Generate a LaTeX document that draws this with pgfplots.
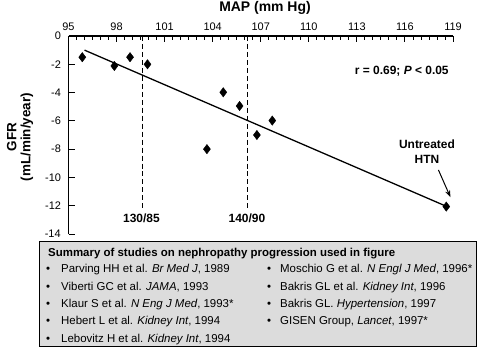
\documentclass[border=0pt]{standalone}
\usepackage{fontspec}
\setmainfont{Liberation Sans}
\usepackage{pgfplots}
\pgfplotsset{compat=1.18}
\usetikzlibrary{arrows.meta}
\definecolor{boxgray}{HTML}{DCDCDC}
\begin{document}
\begin{tikzpicture}[x=1bp,y=1bp]
\path[use as bounding box] (0,0) rectangle (480,347);
\draw[line width=0.8pt, fill=boxgray] (39.5,0.4) rectangle (476,106);
\begin{axis}[
  at={(68.5bp,113bp)}, anchor=south west,
  scale only axis, width=384.5bp, height=198bp,
  xmin=95, xmax=119, ymin=-14, ymax=0,
  axis x line*=top, axis y line*=left,
  axis line style={-, line width=1.1pt},
  xtick={95,98,101,104,107,110,113,116,119}, xticklabels={95,98,101,104,107,110,113,116,119},
  minor x tick num=5,
  ytick={0,-2,-4,-6,-8,-10,-12}, yticklabels={0,-2,-4,-6,-8,-10,-12},
  tick align=inside,
  major tick length=6bp, minor tick length=4bp,
  tick style={black, line width=0.9pt},
  ticklabel style={font=\fontsize{11}{13}\selectfont},
  yticklabel style={xshift=-4bp},
  xticklabel style={yshift=2bp},
  clip=false,
]
\addplot[black, line width=1.3pt] coordinates {(96,-1) (118.6,-12.05)};
\addplot[black, line width=1.1pt, dash pattern=on 5pt off 3pt] coordinates {(99.6,0) (99.6,-12.3)};
\addplot[black, line width=1.1pt, dash pattern=on 5pt off 3pt] coordinates {(106.15,0) (106.15,-12.3)};
\addplot[only marks, mark=diamond*, mark size=4.7pt, black] coordinates {
(95.86,-1.5) (97.86,-2.12) (98.84,-1.5) (99.93,-2.0) (104.66,-3.98)
(105.68,-4.95) (103.64,-8.0) (106.76,-7.0) (107.72,-5.98) (118.58,-12.06)};
\draw[black, line width=0.9pt] (axis cs:95,-14) -- (axis cs:95.375,-14);
\node[anchor=east, inner sep=0, xshift=-7.7bp, font=\fontsize{11}{13}\selectfont] at (axis cs:95,-14) {-14};
\node[anchor=east, font=\fontsize{12}{14}\selectfont\bfseries, inner sep=0] at (axis cs:118.74,-2.52) {r = 0.69; \textit{P} < 0.05};
\node[align=center, font=\fontsize{12}{14.5}\selectfont\bfseries, inner sep=0] at (axis cs:117.375,-8.18) {Untreated\\HTN};
\draw[-{Stealth[length=7bp,width=5bp]}, line width=1pt] (axis cs:118.09,-9.47) -- (axis cs:118.84,-11.4);
\node[font=\fontsize{12}{14}\selectfont\bfseries, inner sep=0] at (axis cs:99.55,-12.86) {130/85};
\node[font=\fontsize{12}{14}\selectfont\bfseries, inner sep=0] at (axis cs:106.14,-12.86) {140/90};
\end{axis}
\node[anchor=base, font=\fontsize{14}{16}\selectfont\bfseries, inner sep=0] at (265,335.3) {MAP (mm Hg)};
\node[rotate=90, align=center, font=\fontsize{13.5}{14}\selectfont\bfseries, inner sep=0] at (20,210) {GFR\\(mL/min/year)};
\begin{scope}[every node/.style={inner sep=0, anchor=base west, font=\fontsize{11.5}{13}\selectfont}]
\node[font=\fontsize{11.5}{13}\selectfont\bfseries] at (48,91) {Summary of studies on nephropathy progression used in figure};
\node at (46,74.7) {•};
\node at (46,57) {•};
\node at (46,39.7) {•};
\node at (46,22.3) {•};
\node at (46,4.7) {•};
\node at (267,74.7) {•};
\node at (267,57) {•};
\node at (267,39.7) {•};
\node at (267,22.3) {•};
\node at (61,74.7) {Parving HH et al. \textit{Br Med J}, 1989};
\node at (61,57) {Viberti GC et al. \textit{JAMA}, 1993};
\node at (61,39.7) {Klaur S et al. \textit{N Eng J Med}, 1993*};
\node at (61,22.3) {Hebert L et al. \textit{Kidney Int}, 1994};
\node at (61,4.7) {Lebovitz H et al. \textit{Kidney Int}, 1994};
\node at (280,74.7) {Moschio G et al. \textit{N Engl J Med}, 1996*};
\node at (280,57) {Bakris GL et al. \textit{Kidney Int}, 1996};
\node at (280,39.7) {Bakris GL. \textit{Hypertension}, 1997};
\node at (280,22.3) {GISEN Group, \textit{Lancet}, 1997*};
\end{scope}
\end{tikzpicture}
\end{document}
